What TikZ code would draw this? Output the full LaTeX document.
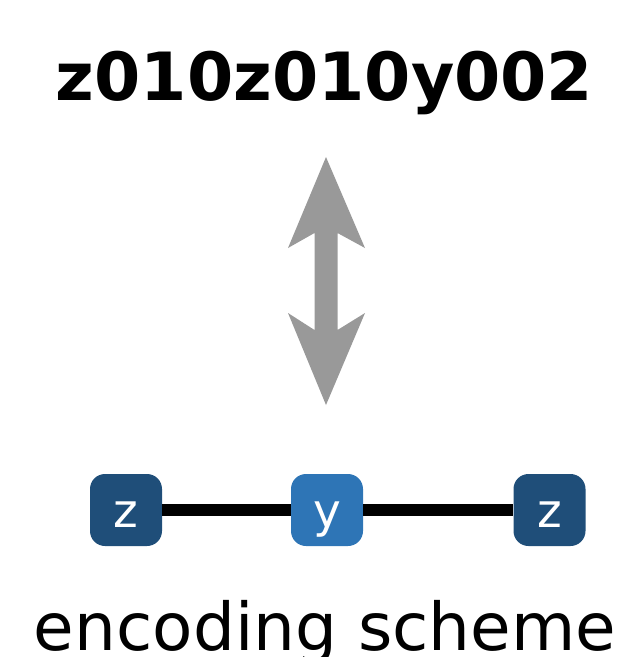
\documentclass[tikz,border=0pt]{standalone}
\usepackage{fontspec}
\setmainfont{DejaVu Sans}
\definecolor{darkblue}{RGB}{31,78,121}
\definecolor{midblue}{RGB}{46,117,182}
\definecolor{arrowgray}{RGB}{153,153,153}
\begin{document}
\begin{tikzpicture}[x=1pt,y=-1pt,
  tok/.style={rounded corners=15pt,minimum size=72pt,inner sep=0pt,text=white,
    text height=40pt,text depth=6pt,font=\fontsize{47}{47}\selectfont},
  link/.style={line width=12pt,black}]
\useasboundingbox (0,0) rectangle (623,657);
\node[anchor=base,font=\fontsize{66.5}{66.5}\selectfont\bfseries] (title) at (324.5,100) {z010z010y002};
\fill[arrowgray] (326,157) -- (365,248) -- (337.5,233) -- (337.5,330) -- (365,313) -- (326,405)
  -- (288,313) -- (314.5,330) -- (314.5,233) -- (288,248) -- cycle;
\node[tok,fill=darkblue] (z1) at (126,510) {z};
\node[tok,fill=midblue] (y) at (327,510) {y};
\node[tok,fill=darkblue] (z2) at (549.5,510) {z};
\draw[link] (z1.east) -- (y.west);
\draw[link] (y.east) -- (z2.west);
\node[anchor=base,font=\fontsize{66}{66}\selectfont] (caption) at (325,650) {encoding scheme};
\end{tikzpicture}
\end{document}
